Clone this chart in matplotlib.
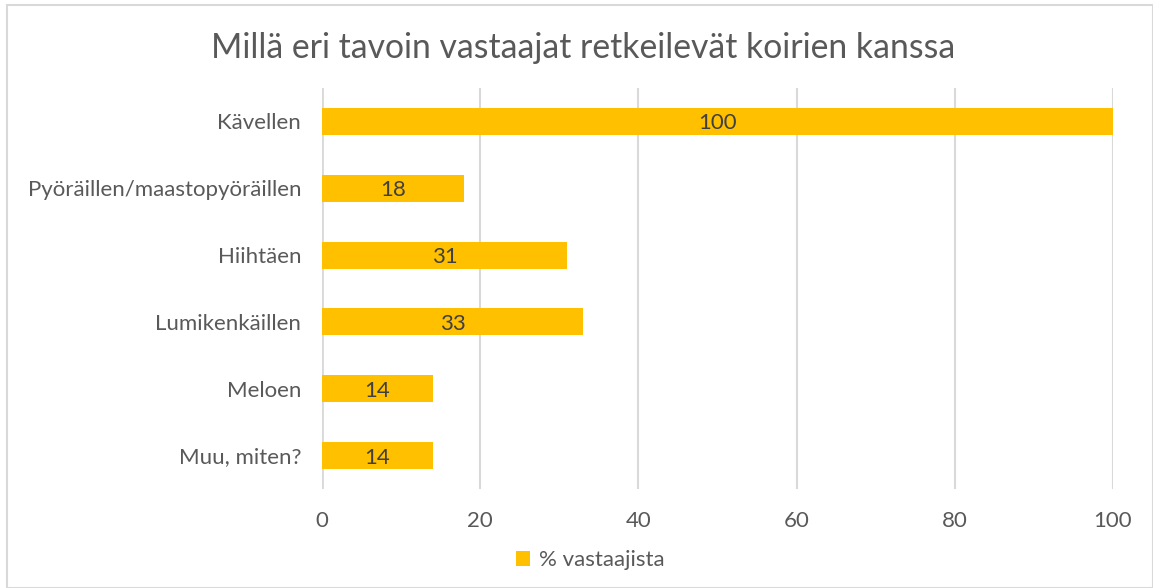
import matplotlib.pyplot as plt
from matplotlib.patches import Rectangle

plt.rcParams['font.family'] = ['Lato', 'DejaVu Sans']

categories = ['Kävellen', 'Pyöräillen/maastopyöräillen', 'Hiihtäen',
              'Lumikenkäillen', 'Meloen', 'Muu, miten?']
values = [100, 18, 31, 33, 14, 14]
xticks = [0, 20, 40, 60, 80, 100]
series_name = '% vastaajista'

gold = '#FFC000'
grid_col = '#D9D9D9'
text_col = '#595959'

fig = plt.figure(figsize=(11.53, 5.88), dpi=100)
fig.patches.append(Rectangle((7 / 1153, 0), 1 - 7 / 1153, 1 - 5 / 588,
                             transform=fig.transFigure, fill=False,
                             edgecolor='#D9D9D9', linewidth=1.5))

ax = fig.add_axes([322 / 1153, 1 - 489 / 588, (1113 - 322) / 1153, (489 - 88) / 588])

y = list(range(len(categories)))
bars = ax.barh(y, values, height=0.405, color=gold, label=series_name, zorder=3)
for b, v in zip(bars, values):
    ax.text(b.get_width() / 2, b.get_y() + b.get_height() / 2 + 0.03, str(v),
            ha='center', va='center', fontsize=16, color='#404040', zorder=4)

ax.set_ylim(len(categories) - 0.5, -0.5)
ax.set_xlim(0, 100)
ax.set_yticks(y)
ax.set_yticklabels(categories, fontsize=16, color=text_col)
ax.set_xticks(xticks)
ax.set_xticklabels([str(t) for t in xticks], fontsize=16, color=text_col)
ax.tick_params(axis='y', length=0, pad=15)
ax.tick_params(axis='x', length=0, pad=16)

ax.grid(axis='x', color=grid_col, linewidth=1.5, zorder=0)
ax.axvline(0, color=grid_col, linewidth=2, zorder=1)
for s in ax.spines.values():
    s.set_visible(False)

fig.text(583 / 1153, 1 - 48 / 588, 'Millä eri tavoin vastaajat retkeilevät koirien kanssa',
         ha='center', va='center', fontsize=24.3, color=text_col)

fig.legend(loc='center', bbox_to_anchor=(590 / 1153, 1 - 560 / 588), frameon=False,
           fontsize=16, handlelength=0.65, handleheight=0.65, handletextpad=0.4,
           labelcolor=text_col)

fig.savefig('out.png', dpi=100)
